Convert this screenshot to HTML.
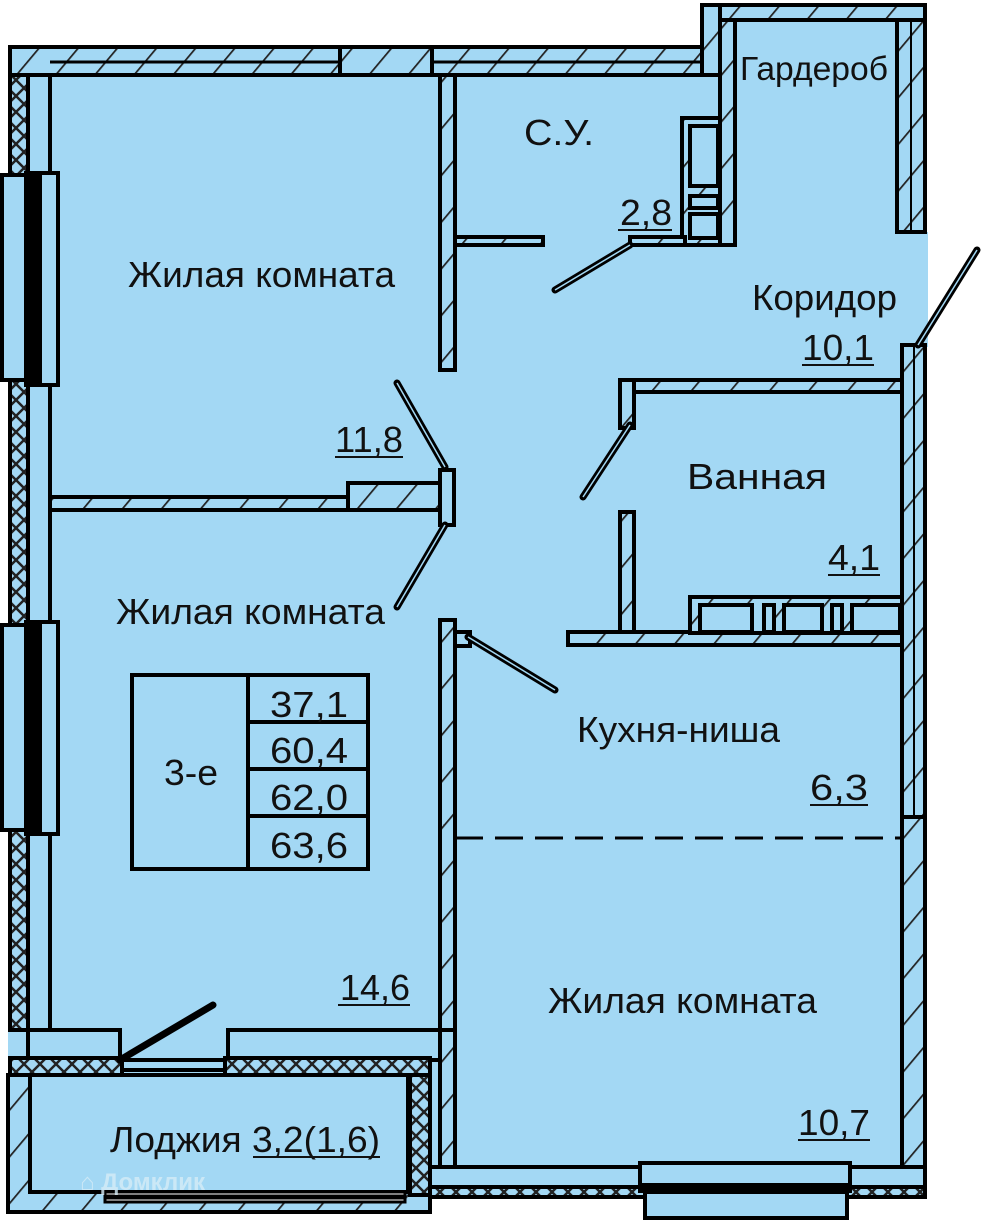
<!DOCTYPE html>
<html><head><meta charset="utf-8"><style>
html,body{margin:0;padding:0;background:#fff}
svg{display:block}
text{font-family:"Liberation Sans",sans-serif;fill:#111}
</style></head><body>
<svg width="982" height="1222" viewBox="0 0 982 1222" xmlns="http://www.w3.org/2000/svg">
<defs>
<pattern id="h" width="30" height="30" patternUnits="userSpaceOnUse" patternTransform="rotate(40)">
<rect width="30" height="30" fill="#a3d8f4"/><line x1="0" y1="0" x2="0" y2="30" stroke="#222" stroke-width="3.5"/>
</pattern>
<pattern id="x" width="16" height="16" patternUnits="userSpaceOnUse">
<rect width="16" height="16" fill="#a3d8f4"/><path d="M0 0L16 16M16 0L0 16" stroke="#222" stroke-width="2.5"/>
</pattern>
</defs>
<g stroke="#000" stroke-width="4">
<polygon points="10,47 700,47 700,5 925,5 925,1195 430,1195 430,1212 8,1212 8,47" fill="#a3d8f4" stroke="none"/>
<rect x="925" y="232" width="3" height="115" fill="#a3d8f4" stroke="none"/>
<rect x="10" y="47" width="18" height="983" fill="url(#x)"/>
<rect x="28" y="75" width="22" height="955" fill="#a3d8f4"/>
<rect x="10" y="47" width="715" height="28" fill="url(#h)"/>
<line x1="50" y1="62" x2="700" y2="62" stroke-width="3"/>
<rect x="340" y="47" width="92" height="28" fill="url(#h)"/>
<rect x="702" y="5" width="223" height="15" fill="url(#h)"/>
<rect x="702" y="5" width="18" height="70" fill="url(#h)"/>
<rect x="720" y="20" width="15" height="225" fill="url(#h)"/>
<rect x="897" y="20" width="28" height="212" fill="url(#h)"/>
<line x1="911" y1="20" x2="911" y2="232" stroke-width="2"/>
<rect x="682" y="118" width="38" height="127" fill="url(#h)"/>
<rect x="690" y="126" width="28" height="60" fill="#a3d8f4"/>
<rect x="690" y="196" width="28" height="12" fill="#a3d8f4"/>
<rect x="690" y="214" width="28" height="24" fill="#a3d8f4"/>
<rect x="455" y="237" width="88" height="8" fill="url(#h)"/>
<rect x="630" y="237" width="55" height="8" fill="url(#h)"/>
<rect x="440" y="75" width="15" height="295" fill="url(#h)"/>
<rect x="50" y="497" width="300" height="13" fill="url(#h)"/>
<rect x="348" y="483" width="92" height="27" fill="url(#h)"/>
<rect x="440" y="470" width="14" height="55" fill="#a3d8f4"/>
<rect x="440" y="620" width="15" height="410" fill="url(#h)"/>
<rect x="455" y="632" width="15" height="14" fill="#a3d8f4"/>
<rect x="440" y="1030" width="15" height="140" fill="url(#h)"/>
<rect x="28" y="1030" width="92" height="30" fill="#a3d8f4"/>
<rect x="228" y="1030" width="212" height="30" fill="#a3d8f4"/>
<rect x="10" y="1058" width="112" height="17" fill="url(#x)"/>
<rect x="225" y="1058" width="205" height="17" fill="url(#x)"/>
<rect x="122" y="1060" width="103" height="10" fill="#a3d8f4"/>
<rect x="8" y="1075" width="422" height="137" fill="url(#h)"/>
<rect x="410" y="1075" width="20" height="120" fill="url(#x)"/>
<rect x="30" y="1075" width="378" height="117" fill="#a3d8f4"/>
<rect x="105" y="1192" width="300" height="10" fill="#fff" stroke-width="3"/>
<line x1="105" y1="1197" x2="405" y2="1197" stroke-width="5"/>
<rect x="620" y="380" width="285" height="12" fill="url(#h)"/>
<rect x="620" y="380" width="14" height="48" fill="url(#h)"/>
<rect x="620" y="512" width="14" height="128" fill="url(#h)"/>
<rect x="568" y="632" width="337" height="13" fill="url(#h)"/>
<rect x="690" y="597" width="212" height="36" fill="url(#h)"/>
<rect x="700" y="605" width="52" height="27" fill="#a3d8f4"/>
<rect x="764" y="605" width="10" height="27" fill="#a3d8f4"/>
<rect x="784" y="605" width="38" height="27" fill="#a3d8f4"/>
<rect x="832" y="605" width="10" height="27" fill="#a3d8f4"/>
<rect x="852" y="605" width="48" height="27" fill="#a3d8f4"/>
<rect x="902" y="345" width="23" height="472" fill="url(#h)"/>
<line x1="914" y1="345" x2="914" y2="817" stroke-width="2"/>
<rect x="902" y="817" width="23" height="350" fill="url(#h)"/>
<rect x="430" y="1167" width="495" height="20" fill="#a3d8f4"/>
<rect x="430" y="1187" width="495" height="10" fill="url(#x)"/>
<rect x="640" y="1163" width="210" height="22" fill="#a3d8f4"/>
<rect x="640" y="1185" width="210" height="6" fill="#000"/>
<rect x="645" y="1192" width="202" height="26" fill="#a3d8f4"/>
<rect x="2" y="175" width="24" height="205" fill="#a3d8f4"/>
<rect x="26" y="173" width="14" height="212" fill="#000"/>
<rect x="40" y="173" width="18" height="212" fill="#a3d8f4"/>
<rect x="2" y="625" width="24" height="205" fill="#a3d8f4"/>
<rect x="26" y="622" width="14" height="212" fill="#000"/>
<rect x="40" y="622" width="18" height="212" fill="#a3d8f4"/>
<g stroke-width="7" stroke-linecap="round">
<line x1="397" y1="383" x2="445" y2="467"/>
<line x1="397" y1="607" x2="445" y2="525"/>
<line x1="555" y1="290" x2="630" y2="245"/>
<line x1="468" y1="637" x2="555" y2="690"/>
<line x1="583" y1="497" x2="630" y2="425"/>
<line x1="120" y1="1060" x2="213" y2="1005"/>
<line x1="918" y1="345" x2="977" y2="250"/>
</g>
<g stroke="#a3d8f4" stroke-width="1.5">
<line x1="397" y1="383" x2="445" y2="467"/>
<line x1="397" y1="607" x2="445" y2="525"/>
<line x1="555" y1="290" x2="630" y2="245"/>
<line x1="468" y1="637" x2="555" y2="690"/>
<line x1="583" y1="497" x2="630" y2="425"/>
<line x1="918" y1="345" x2="977" y2="250"/>
</g>
<line x1="455" y1="838" x2="902" y2="838" stroke-width="3" stroke-dasharray="28,12"/>
<rect x="132" y="675" width="236" height="194" fill="none"/>
<line x1="248" y1="675" x2="248" y2="869"/>
<line x1="248" y1="722" x2="368" y2="722"/>
<line x1="248" y1="769" x2="368" y2="769"/>
<line x1="248" y1="816" x2="368" y2="816"/>
</g>
<g font-size="36" lengthAdjust="spacingAndGlyphs">
<text x="128" y="287" textLength="267" lengthAdjust="spacingAndGlyphs">Жилая комната</text>
<text x="116" y="624" textLength="269" lengthAdjust="spacingAndGlyphs">Жилая комната</text>
<text x="548" y="1013" textLength="269" lengthAdjust="spacingAndGlyphs">Жилая комната</text>
<text x="524" y="145" textLength="70" lengthAdjust="spacingAndGlyphs">С.У.</text>
<text x="752" y="310" textLength="145" lengthAdjust="spacingAndGlyphs">Коридор</text>
<text x="687" y="489" textLength="140" lengthAdjust="spacingAndGlyphs">Ванная</text>
<text x="577" y="742" textLength="203" lengthAdjust="spacingAndGlyphs">Кухня-ниша</text>
<text x="110" y="1152" textLength="270" lengthAdjust="spacingAndGlyphs">Лоджия 3,2(1,6)</text>
<text x="335" y="452" textLength="68" lengthAdjust="spacingAndGlyphs">11,8</text>
<text x="340" y="1000" textLength="70" lengthAdjust="spacingAndGlyphs">14,6</text>
<text x="798" y="1135" textLength="72" lengthAdjust="spacingAndGlyphs">10,7</text>
<text x="802" y="360" textLength="72" lengthAdjust="spacingAndGlyphs">10,1</text>
<text x="828" y="570" textLength="52" lengthAdjust="spacingAndGlyphs">4,1</text>
<text x="810" y="800" textLength="58" lengthAdjust="spacingAndGlyphs">6,3</text>
<text x="620" y="225" textLength="52" lengthAdjust="spacingAndGlyphs">2,8</text>
<text x="164" y="785" textLength="54" lengthAdjust="spacingAndGlyphs">3-е</text>
<text x="270" y="717" textLength="78" lengthAdjust="spacingAndGlyphs">37,1</text>
<text x="270" y="763" textLength="78" lengthAdjust="spacingAndGlyphs">60,4</text>
<text x="270" y="810" textLength="78" lengthAdjust="spacingAndGlyphs">62,0</text>
<text x="270" y="858" textLength="78" lengthAdjust="spacingAndGlyphs">63,6</text>
</g>
<text x="740" y="80" font-size="33" textLength="148" lengthAdjust="spacingAndGlyphs">Гардероб</text>
<g stroke="#111" stroke-width="2">
<line x1="335" y1="457" x2="403" y2="457"/>
<line x1="338" y1="1005" x2="410" y2="1005"/>
<line x1="798" y1="1140" x2="870" y2="1140"/>
<line x1="802" y1="365" x2="874" y2="365"/>
<line x1="828" y1="575" x2="880" y2="575"/>
<line x1="810" y1="805" x2="868" y2="805"/>
<line x1="618" y1="230" x2="672" y2="230"/>
<line x1="253" y1="1157" x2="380" y2="1157"/>
</g>
<text x="80" y="1190" font-size="24" font-weight="bold" style="fill:#d6ecf7;opacity:.8">⌂ Домклик</text>
</svg>
</body></html>
